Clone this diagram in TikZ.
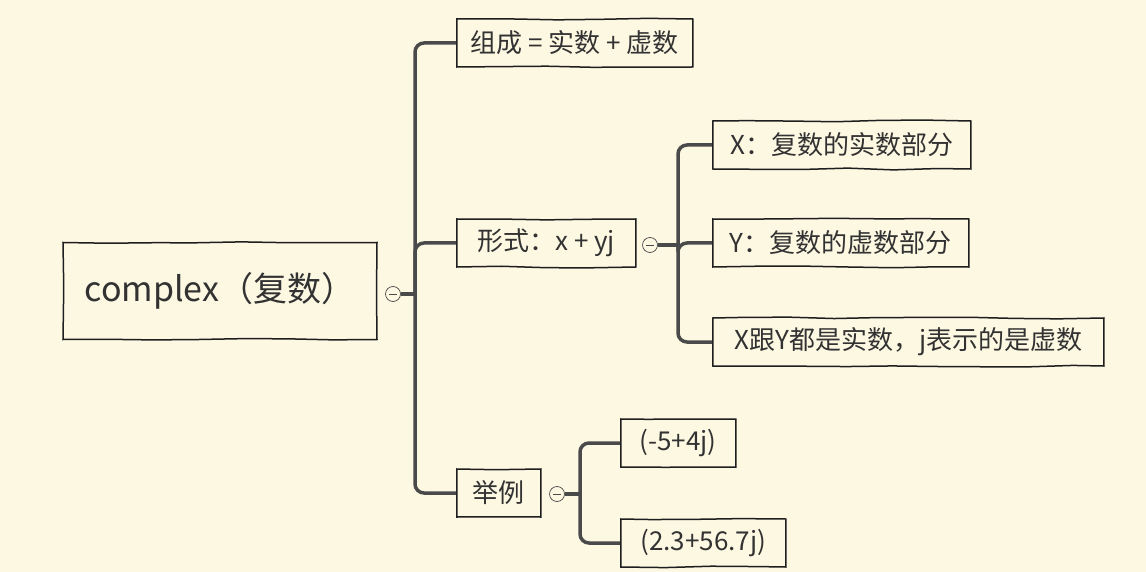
\documentclass[tikz,border=0pt]{standalone}
\usepackage{fontspec}
\setmainfont{Noto Sans CJK SC}
\usetikzlibrary{calc}
\usetikzlibrary{decorations.pathmorphing}
\definecolor{paper}{RGB}{253,248,226}
\definecolor{ink}{RGB}{30,30,30}
\definecolor{stem}{RGB}{74,74,74}
\definecolor{word}{RGB}{50,50,50}

\begin{document}
\begin{tikzpicture}[x=1pt,y=-1pt]

		\pgfmathsetseed{7}
		\tikzset{topic/.style = {draw=ink, line width=1.5pt, fill=paper, text=word, decorate, decoration={random steps, segment length=45pt, amplitude=0.9pt}, font=\fontsize{26}{30}\selectfont, minimum height=48pt, inner xsep=8pt, anchor=west}}
		\tikzset{root/.style = {topic, font=\fontsize{34}{38}\selectfont, minimum width=314pt, minimum height=97pt, anchor=center}}
		\tikzset{fold/.style = {circle, draw=stem, line width=0.7pt, fill=paper, minimum size=15pt, inner sep=0pt, path picture={\draw[stem, line width=0.7pt] ($(path picture bounding box.center)+(-4pt,0)$) -- ($(path picture bounding box.center)+(4pt,0)$);}}}
		\tikzset{link/.style = {draw=stem, line width=3.5pt, rounded corners=9pt}}
		\fill[paper] (0,0) rectangle (1146,572);
		\useasboundingbox (0,0) rectangle (1146,572);
		% topics
		\node[root] (cplx) at (220,291) {complex（复数）};
		\node[fold] (f0) at (393,294) {};
		
		\node[topic, minimum width=236pt] (comp) at (456,43) {组成 = 实数 + 虚数};
		\node[topic, minimum width=179pt] (form) at (456,243) {形式：x + yj};
		\node[topic, minimum width=84pt] (expl) at (456,493) {举例};
		
		\node[fold] (f1) at (650,245) {};
		\node[topic, minimum width=258pt] (xpart) at (712,145) {X：复数的实数部分};
		\node[topic, minimum width=256pt] (ypart) at (712,243) {Y：复数的虚数部分};
		\node[topic, minimum width=391pt] (note) at (712,342) {X跟Y都是实数，j表示的是虚数};
		
		\node[fold] (f2) at (557,494) {};
		\node[topic, minimum width=115pt] (ex1) at (620,443) {(-5+4j)};
		\node[topic, minimum width=165pt] (ex2) at (620,543) {(2.3+56.7j)};
		
		\coordinate (j0) at (415,294);
		\coordinate (j1) at (678,245);
		\coordinate (j2) at (580,494);
		
		%edges
		\draw[link] (f0.east) -- (j0);
		\draw[link] (j0) |- (comp.west);
		\draw[link] (j0) |- (form.west);
		\draw[link] (j0) |- (expl.west);
		
		\draw[link] (f1.east) -- (j1);
		\draw[link] (j1) |- (xpart.west);
		\draw[link] (j1) |- (ypart.west);
		\draw[link] (j1) |- (note.west);
		
		\draw[link] (f2.east) -- (j2);
		\draw[link] (j2) |- (ex1.west);
		\draw[link] (j2) |- (ex2.west);
		
\end{tikzpicture}
\end{document}
